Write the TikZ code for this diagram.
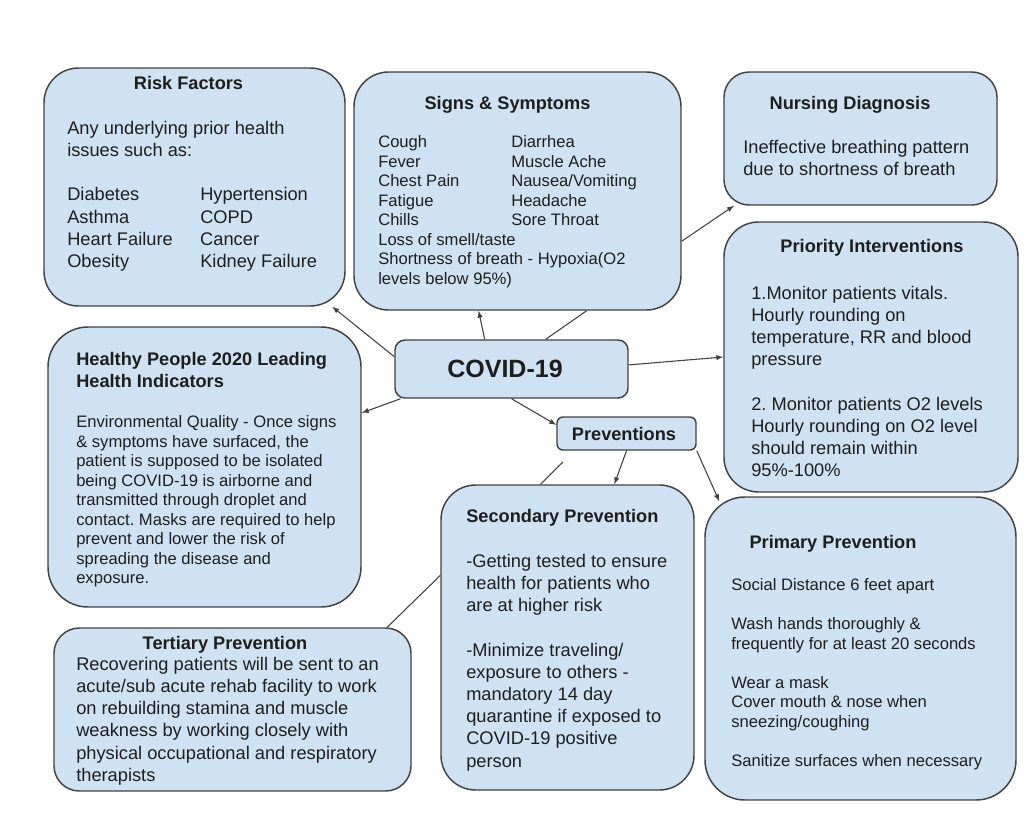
\documentclass[tikz,border=0pt]{standalone}
\usepackage{fontspec}
\setmainfont{Liberation Sans}
\usetikzlibrary{fit}
\frenchspacing
\definecolor{boxfill}{RGB}{207,226,243}
\definecolor{boxline}{RGB}{66,66,66}
\definecolor{txtcol}{RGB}{30,30,30}
\tikzset{
  box/.style={draw=boxline, fill=boxfill, line width=1.1pt, inner sep=0pt},
  ttl/.style={font=\fontsize{13.65}{16.65}\selectfont\bfseries, text=txtcol, inner sep=0pt, anchor=base},
  txt/.style={font=\fontsize{13.7}{16.65}\selectfont, text=txtcol, inner sep=0pt, anchor=north west},
  txtsmall/.style={txt, font=\fontsize{12.45}{14.6}\selectfont},
  link/.style={draw=boxline, line width=0.8pt},
  linkarrow/.style={link, -latex},
}

\begin{document}
\begin{tikzpicture}[x=0.75pt, y=-0.75pt]
    \useasboundingbox[fill=white] (0,0) rectangle (1024,828);
    % boxes
    \node[box, rounded corners=26pt, fit={(44,68) (345,306)}] (risk) {};
    \node[box, rounded corners=26pt, fit={(354,72) (681,310)}] (signs) {};
    \node[box, rounded corners=19pt, fit={(724,72) (997,205)}] (nursing) {};
    \node[box, rounded corners=26pt, fit={(724,222) (1018,492)}] (priority) {};
    \node[box, rounded corners=7.5pt, fit={(395,340) (628,398)}] (covid) {};
    \node[box, rounded corners=30pt, fit={(48,327) (361,607)}] (healthy) {};
    \node[box, rounded corners=4.5pt, fit={(557,417) (696,450)}] (prev) {};
    \node[box, rounded corners=26pt, fit={(441,485) (694,790)}] (second) {};
    \node[box, rounded corners=30pt, fit={(705,497) (1016,800)}] (primary) {};
    \node[box, rounded corners=19pt, fit={(54,628) (411,791)}] (tert) {};

    % Risk Factors
    \node[ttl] at (188.5,89) {Risk Factors};
    \node[txt] at (67,118.5) {\begin{tabular}{@{}p{99.75pt}@{}l@{}}
      \multicolumn{2}{@{}l@{}}{Any underlying prior health}\\
      \multicolumn{2}{@{}l@{}}{issues such as:}\\
      \\
      Diabetes & Hypertension\\
      Asthma & COPD\\
      Heart Failure & Cancer\\
      Obesity & Kidney Failure
    \end{tabular}};

    % Signs & Symptoms
    \node[ttl] at (507.5,109) {Signs \& Symptoms};
    \node[txtsmall] at (378,134) {\begin{tabular}{@{}p{99.75pt}@{}l@{}}
      Cough & Diarrhea\\
      Fever & Muscle Ache\\
      Chest Pain & Nausea/Vomiting\\
      Fatigue & Headache\\
      Chills & Sore Throat\\
      \multicolumn{2}{@{}l@{}}{Loss of smell/taste}\\
      \multicolumn{2}{@{}l@{}}{Shortness of breath - Hypoxia(O2}\\
      \multicolumn{2}{@{}l@{}}{levels below 95\%)}
    \end{tabular}};

    % Nursing Diagnosis
    \node[ttl] at (850,109) {Nursing Diagnosis};
    \node[txt] at (743,137.5) {\begin{tabular}{@{}l@{}}
      Ineffective breathing pattern\\
      due to shortness of breath
    \end{tabular}};

    % Priority Interventions
    \node[ttl] at (872,252) {Priority Interventions};
    \node[txt] at (751,283.5) {\begin{tabular}{@{}l@{}}
      1.Monitor patients vitals.\\
      Hourly rounding on\\
      temperature, RR and blood\\
      pressure\\
      \\
      2. Monitor patients O2 levels\\
      Hourly rounding on O2 level\\
      should remain within\\
      95\%-100\%
    \end{tabular}};

    % COVID-19 and Preventions
    \node[ttl, anchor=center, font=\fontsize{18.75}{22}\selectfont\bfseries] at (505,369) {COVID-19};
    \node[ttl, anchor=center] at (624,434) {Preventions};

    % Healthy People 2020
    \node[ttl, anchor=north west] at (76,349.5) {\begin{tabular}{@{}l@{}}
      Healthy People 2020 Leading\\
      Health Indicators
    \end{tabular}};
    \node[txtsmall] at (76,414) {\begin{tabular}{@{}l@{}}
      Environmental Quality - Once signs\\
      \& symptoms have surfaced, the\\
      patient is supposed to be isolated\\
      being COVID-19 is airborne and\\
      transmitted through droplet and\\
      contact. Masks are required to help\\
      prevent and lower the risk of\\
      spreading the disease and\\
      exposure.
    \end{tabular}};

    % Secondary Prevention
    \node[ttl, anchor=base west] at (466,522) {Secondary Prevention};
    \node[txt] at (466,551.5) {\begin{tabular}{@{}l@{}}
      -Getting tested to ensure\\
      health for patients who\\
      are at higher risk\\
      \\
      -Minimize traveling/\\
      exposure to others -\\
      mandatory 14 day\\
      quarantine if exposed to\\
      COVID-19 positive\\
      person
    \end{tabular}};

    % Primary Prevention
    \node[ttl] at (833,548) {Primary Prevention};
    \node[txtsmall] at (731,577) {\begin{tabular}{@{}l@{}}
      Social Distance 6 feet apart\\
      \\
      Wash hands thoroughly \&\\
      frequently for at least 20 seconds\\
      \\
      Wear a mask\\
      Cover mouth \& nose when\\
      sneezing/coughing\\
      \\
      Sanitize surfaces when necessary
    \end{tabular}};

    % Tertiary Prevention
    \node[ttl] at (225,649) {Tertiary Prevention};
    \node[txt] at (76,654.5) {\begin{tabular}{@{}l@{}}
      Recovering patients will be sent to an\\
      acute/sub acute rehab facility to work\\
      on rebuilding stamina and muscle\\
      weakness by working closely with\\
      physical occupational and respiratory\\
      therapists
    \end{tabular}};

    % connectors
    \coordinate (loose) at (563,462);
    \draw[linkarrow] (covid.174) -- (risk.-41);
    \draw[linkarrow] (covid.195) -- (healthy.19);
    \draw[linkarrow] (covid.132) -- (signs.-108);
    \draw[link] (covid.41) -- (signs.-60);
    \draw[linkarrow] (signs.-17) -- (nursing.208);
    \draw[linkarrow] (covid.2) -- (priority.west);
    \draw[linkarrow] (covid.south) -- (prev.173);
    \draw[linkarrow] (prev.south) -- (second.73);
    \draw[linkarrow] (prev.south east) -- ([shift={(15,5)}]primary.north west);
    \draw[link] (loose) -- (second.100);
    \draw[link] (second.154) -- (tert.28);
\end{tikzpicture}
\end{document}
